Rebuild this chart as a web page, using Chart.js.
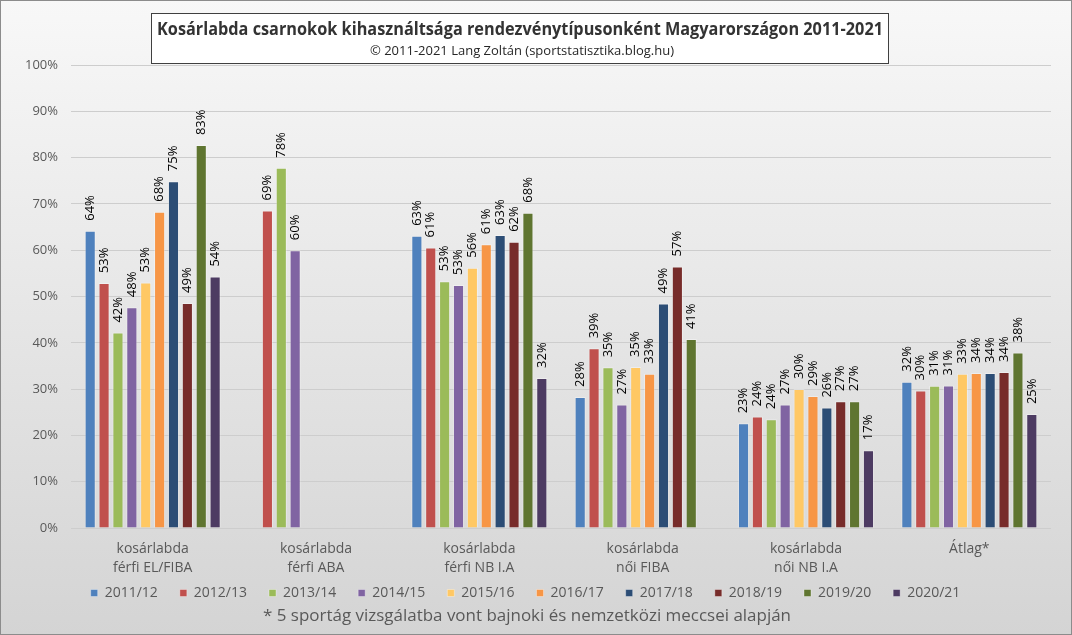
<!DOCTYPE html>
<html>
<head>
<meta charset="utf-8">
<script src="https://cdn.jsdelivr.net/npm/chart.js@4/dist/chart.umd.min.js"></script>
<style>
html,body{margin:0;padding:0;background:#fff;}
#wrap{width:1072px;height:635px;position:relative;}
</style>
</head>
<body>
<div id="wrap"><canvas id="c" width="1072" height="635"></canvas></div>
<script>
const categories = [
  ['kosárlabda','férfi EL/FIBA'],
  ['kosárlabda','férfi ABA'],
  ['kosárlabda','férfi NB I.A'],
  ['kosárlabda','női FIBA'],
  ['kosárlabda','női NB I.A'],
  ['Átlag*']
];
const seasons = ['2011/12','2012/13','2013/14','2014/15','2015/16','2016/17','2017/18','2018/19','2019/20','2020/21'];
const colors = ['#4F81BD','#C0504D','#9BBB59','#8064A2','#FFC864','#F79646','#2C4D75','#772C2A','#5F7530','#4D3B62'];

const s2011 = [64.2, null, 63.1, 28.3, 22.6, 31.6];
const s2012 = [52.9, 68.6, 60.6, 38.8, 24.1, 29.7];
const s2013 = [42.2, 77.8, 53.3, 34.7, 23.5, 30.7];
const s2014 = [47.7, 60.0, 52.5, 26.7, 26.7, 30.8];
const s2015 = [53.0, null, 56.2, 34.8, 30.0, 33.3];
const s2016 = [68.3, null, 61.3, 33.3, 28.5, 33.5];
const s2017 = [74.9, null, 63.3, 48.5, 26.0, 33.5];
const s2018 = [48.6, null, 61.8, 56.5, 27.4, 33.7];
const s2019 = [82.7, null, 68.1, 40.8, 27.4, 37.9];
const s2020 = [54.3, null, 32.4, null, 16.8, 24.6];
const seriesValues = [s2011,s2012,s2013,s2014,s2015,s2016,s2017,s2018,s2019,s2020];
const yTicks = [0,10,20,30,40,50,60,70,80,90,100];

const titleText = 'Kosárlabda csarnokok kihasználtsága rendezvénytípusonként Magyarországon 2011-2021';
const subtitleText = '© 2011-2021 Lang Zoltán (sportstatisztika.blog.hu)';
const footnoteText = '* 5 sportág vizsgálatba vont bajnoki és nemzetközi meccsei alapján';

const bgPlugin = {
  id: 'bg',
  afterLayout(chart) {
    if (chart.legend) {
      chart.legend.top -= 16;
      chart.legend.bottom -= 16;
    }
  },
  beforeDraw(chart) {
    const ctx = chart.ctx, w = chart.width, h = chart.height;
    ctx.save();
    const g = ctx.createLinearGradient(0, 0, 0, h);
    g.addColorStop(0, '#f8f8f8');
    g.addColorStop(1, '#d4d4d4');
    ctx.fillStyle = g;
    ctx.fillRect(0, 0, w, h);
    ctx.strokeStyle = '#8c8c8c';
    ctx.lineWidth = 1;
    ctx.strokeRect(0.5, 0.5, w - 1, h - 1);
    // title box
    ctx.fillStyle = '#ffffff';
    ctx.fillRect(151.5, 13.5, 737, 50);
    ctx.strokeStyle = '#404040';
    ctx.strokeRect(151.5, 13.5, 737, 50);
    ctx.fillStyle = '#333333';
    ctx.textAlign = 'center';
    ctx.textBaseline = 'middle';
    ctx.font = 'bold 17px "Open Sans", sans-serif';
    ctx.fillText(titleText, 520, 30, 726);
    ctx.font = '13px "Open Sans", sans-serif';
    ctx.fillStyle = '#262626';
    ctx.fillText(subtitleText, 522, 51, 318);
    ctx.restore();
  },
  afterDraw(chart) {
    const ctx = chart.ctx;
    ctx.save();
    ctx.fillStyle = '#595959';
    ctx.textAlign = 'center';
    ctx.textBaseline = 'middle';
    ctx.font = '17px "Open Sans", sans-serif';
    ctx.fillText(footnoteText, 527, 616, 528);
    ctx.restore();
  }
};

const labelPlugin = {
  id: 'vlabels',
  afterDatasetsDraw(chart) {
    const ctx = chart.ctx;
    ctx.save();
    ctx.fillStyle = '#000000';
    ctx.font = '13px "Open Sans", sans-serif';
    ctx.textAlign = 'left';
    ctx.textBaseline = 'middle';
    chart.data.datasets.forEach((ds, di) => {
      const meta = chart.getDatasetMeta(di);
      meta.data.forEach((bar, i) => {
        const v = ds.data[i];
        if (v === null || v === undefined) return;
        ctx.save();
        ctx.translate(bar.x, bar.y - 10);
        ctx.rotate(-Math.PI / 2);
        ctx.fillText(Math.round(v) + '%', 0, 0);
        ctx.restore();
      });
    });
    ctx.restore();
  }
};

new Chart(document.getElementById('c'), {
  type: 'bar',
  data: {
    labels: categories,
    datasets: seasons.map((s, i) => ({
      label: s,
      data: seriesValues[i],
      backgroundColor: colors[i],
      borderColor: 'rgba(255,255,255,0.35)',
      borderWidth: 1,
      barPercentage: 0.8,
      categoryPercentage: 0.85
    }))
  },
  options: {
    responsive: false,
    animation: false,
    devicePixelRatio: 1,
    layout: { padding: { top: 65, right: 21, bottom: 9, left: 0 } },
    plugins: {
      title: { display: false },
      tooltip: { enabled: false },
      legend: {
        position: 'bottom',
        labels: {
          boxWidth: 7,
          boxHeight: 7,
          padding: 22,
          color: '#595959',
          font: { size: 14, family: '"Open Sans", sans-serif' }
        }
      }
    },
    scales: {
      x: {
        grid: { display: false, drawTicks: false },
        border: { display: false },
        ticks: {
          color: '#595959',
          padding: 12,
          maxRotation: 0,
          font: { size: 14, family: '"Open Sans", sans-serif', lineHeight: 1.35 }
        },
        afterFit(scale) { scale.height = 52; }
      },
      y: {
        min: 0,
        max: 100,
        afterBuildTicks(scale) { scale.ticks = yTicks.map(v => ({ value: v })); },
        grid: { color: '#cdcdcd', drawTicks: false },
        border: { display: false },
        ticks: {
          color: '#595959',
          padding: 13,
          font: { size: 13, family: '"Open Sans", sans-serif' },
          callback: v => v + '%'
        },
        afterFit(scale) { scale.width = 71; }
      }
    }
  },
  plugins: [bgPlugin, labelPlugin]
});
</script>
</body>
</html>
